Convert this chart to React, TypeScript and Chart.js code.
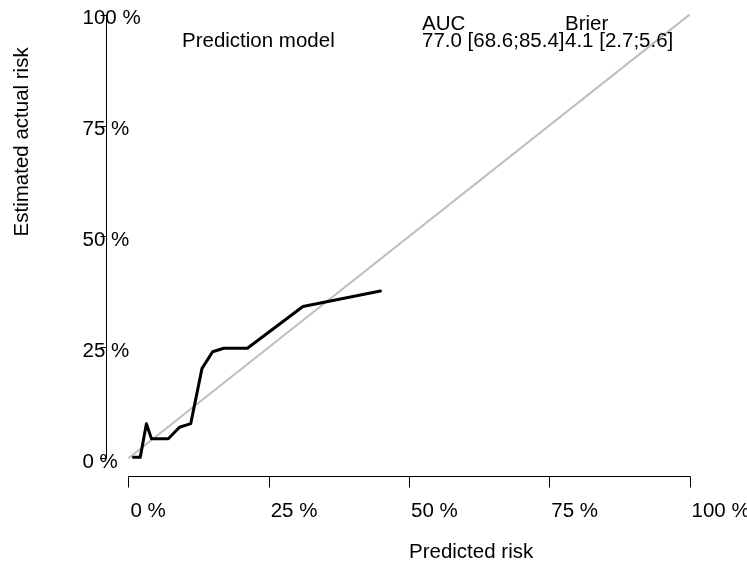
import { useEffect, useRef } from "react";
import { Chart, registerables } from "chart.js";

Chart.register(...registerables);

// Calibration curve (predicted risk vs estimated actual risk)
const predictedRisk = [0.009, 0.021, 0.032, 0.041, 0.071, 0.091, 0.111, 0.131, 0.150, 0.170, 0.212, 0.311, 0.449];
const actualRisk = [0.002, 0.002, 0.078, 0.044, 0.044, 0.070, 0.078, 0.202, 0.240, 0.248, 0.248, 0.342, 0.377];

// Reference diagonal
const diagX = [0, 1];
const diagY = [0, 1];

// Axis ticks
const xTicks = [0, 0.25, 0.5, 0.75, 1];
const xTickLabels = ["0 %", "25 %", "50 %", "75 %", "100 %"];
const yTicks = [0, 0.25, 0.5, 0.75, 1];
const yTickLabels = ["0 %", "25 %", "50 %", "75 %", "100 %"];

// Legend table
const legendModels = ["Prediction model"];
const legendHeaders = ["AUC", "Brier"];
const legendAUC = ["77.0 [68.6;85.4]"];
const legendBrier = ["4.1 [2.7;5.6]"];

const xTitle = "Predicted risk";
const yTitle = "Estimated actual risk";

const FONT = '20.5px "Liberation Sans", Arial, Helvetica, sans-serif';

const axesPlugin = {
  id: "rAxes",
  afterDraw(chart: any) {
    const { ctx } = chart;
    const xs = chart.scales.x;
    const ys = chart.scales.y;
    ctx.save();
    ctx.strokeStyle = "#000";
    ctx.fillStyle = "#000";
    ctx.lineWidth = 1;
    ctx.font = FONT;

    // x axis (drawn at the lower edge of the plot region)
    const yAx = Math.round(ys.getPixelForValue(-0.04)) + 0.5;
    const xa0 = Math.round(xs.getPixelForValue(xTicks[0])) + 0.5;
    const xa1 = Math.round(xs.getPixelForValue(xTicks[xTicks.length - 1])) + 0.5;
    ctx.beginPath();
    ctx.moveTo(xa0, yAx);
    ctx.lineTo(xa1, yAx);
    xTicks.forEach((v) => {
      const px = Math.round(xs.getPixelForValue(v)) + 0.5;
      ctx.moveTo(px, yAx);
      ctx.lineTo(px, yAx + 11);
    });
    ctx.stroke();
    ctx.textAlign = "left";
    ctx.textBaseline = "alphabetic";
    xTicks.forEach((v, i) => {
      const px = xs.getPixelForValue(v);
      ctx.fillText(xTickLabels[i], px + 2, yAx + 40);
    });

    // y axis (drawn at the left edge of the plot region)
    const xAx = Math.round(xs.getPixelForValue(-0.04)) + 0.5;
    const ya0 = Math.round(ys.getPixelForValue(yTicks[0])) + 0.5;
    const ya1 = Math.round(ys.getPixelForValue(yTicks[yTicks.length - 1])) + 0.5;
    ctx.beginPath();
    ctx.moveTo(xAx, ya0);
    ctx.lineTo(xAx, ya1);
    yTicks.forEach((v) => {
      const py = Math.round(ys.getPixelForValue(v)) + 0.5;
      ctx.moveTo(xAx, py);
      ctx.lineTo(xAx - 6, py);
    });
    ctx.stroke();
    yTicks.forEach((v, i) => {
      const py = ys.getPixelForValue(v);
      ctx.fillText(yTickLabels[i], xAx - 24, py + 9.5);
    });

    // axis titles
    ctx.fillText(xTitle, xs.getPixelForValue(0.5), 558);
    ctx.save();
    ctx.translate(28, ys.getPixelForValue(0.5));
    ctx.rotate(-Math.PI / 2);
    ctx.fillText(yTitle, 0, 0);
    ctx.restore();

    // legend table
    ctx.fillText(legendHeaders[0], 422, 30);
    ctx.fillText(legendHeaders[1], 565, 30);
    legendModels.forEach((m, i) => {
      const by = 47 + i * 22;
      ctx.fillText(m, 182, by);
      ctx.fillText(legendAUC[i], 422, by);
      ctx.fillText(legendBrier[i], 565, by);
    });
    ctx.restore();
  },
};

export default function App() {
  const ref = useRef<HTMLCanvasElement | null>(null);

  useEffect(() => {
    document.body.style.margin = "0";
    const canvas = ref.current;
    if (!canvas) return;
    const chart = new Chart(canvas, {
      type: "line",
      data: {
        datasets: [
          {
            label: "Prediction model",
            data: predictedRisk.map((x, i) => ({ x, y: actualRisk[i] })),
            borderColor: "#000000",
            borderWidth: 3,
            pointRadius: 0,
            tension: 0,
            fill: false,
            borderJoinStyle: "round",
            borderCapStyle: "round",
          },
          {
            label: "Diagonal",
            data: diagX.map((x, i) => ({ x, y: diagY[i] })),
            borderColor: "#BEBEBE",
            borderWidth: 2,
            pointRadius: 0,
            tension: 0,
            fill: false,
          },
        ],
      },
      options: {
        responsive: false,
        animation: false,
        devicePixelRatio: 1,
        layout: { padding: { left: 106, right: 35, top: 0, bottom: 93 } },
        plugins: { legend: { display: false }, tooltip: { enabled: false } },
        scales: {
          x: { type: "linear", min: -0.04, max: 1.04, display: false },
          y: { type: "linear", min: -0.04, max: 1.033, display: false },
        },
      },
      plugins: [axesPlugin],
    });
    return () => chart.destroy();
  }, []);

  return (
    <canvas
      ref={ref}
      width={747}
      height={569}
      style={{ display: "block", width: 747, height: 569 }}
    />
  );
}
